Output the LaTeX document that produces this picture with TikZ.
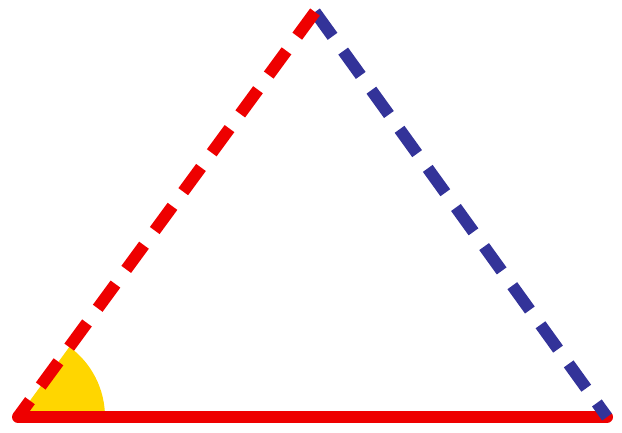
\documentclass[tikz,border=0pt]{standalone}
\usepackage{tikz}

\definecolor{sideRed}{RGB}{238,0,0}
\definecolor{sideBlue}{RGB}{51,51,153}
\definecolor{angleGold}{RGB}{255,214,0}

\tikzset{
  side/.style={line width=12pt},
  dashside/.style={side,dash pattern=on 30pt off 18.2pt}
}

\begin{document}
\begin{tikzpicture}[x=1pt,y=1pt]
      \useasboundingbox (0,0) rectangle (622,432);

      \coordinate (A) at (18,15);
      \coordinate (B) at (607,15);
      \coordinate (C) at (315,420);

      % angle at A
      \fill [angleGold] (A) -- ++(0:87) arc [start angle=0,end angle=53.75,radius=87] -- cycle;

      \draw [side,sideRed,line cap=round] (A) to (B);
      \draw [dashside,sideBlue] (C) to (B);
      \draw [dashside,sideRed] (C) to (A);

    \end{tikzpicture}
\end{document}
